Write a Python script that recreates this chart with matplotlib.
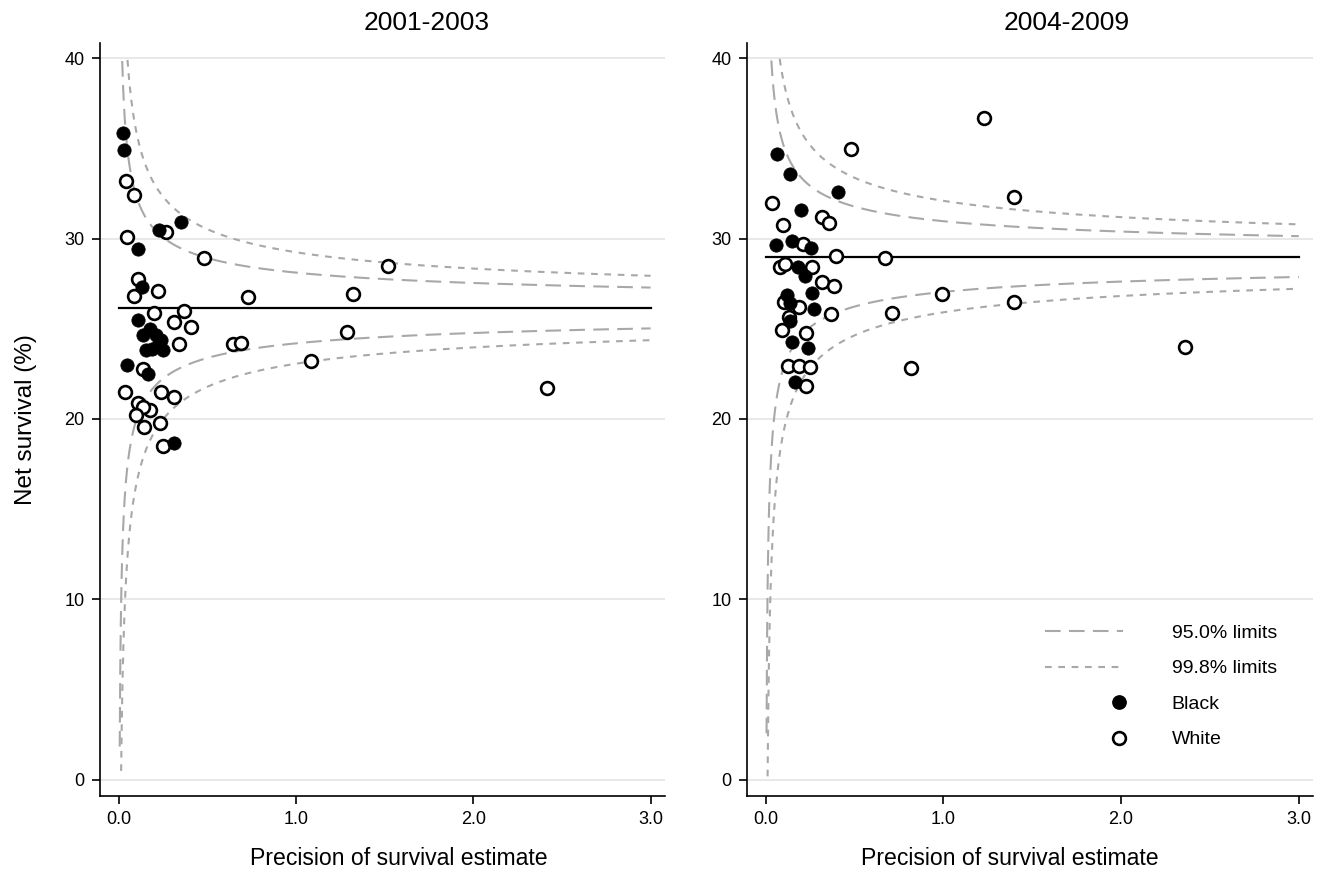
import numpy as np
import matplotlib
matplotlib.use("Agg")
from matplotlib import pyplot as plt
from matplotlib.lines import Line2D
from matplotlib.legend_handler import HandlerLine2D

plt.rcParams['font.family'] = ['Liberation Sans', 'DejaVu Sans']

titles = ["2001-2003", "2004-2009"]
means = [26.15, 29.0]
z95 = 1.96
z998 = 3.09

# 2001-2003
black_x_0 = [0.025, 0.03, 0.35, 0.227, 0.11, 0.13, 0.11, 0.175, 0.137, 0.21,
             0.24, 0.23, 0.156, 0.19, 0.25, 0.05, 0.167, 0.315]
black_y_0 = [35.83, 34.9, 30.9, 30.47, 29.42, 27.3, 25.48, 25.0, 24.65, 24.65,
             24.4, 24.2, 23.8, 23.9, 23.8, 23.0, 22.5, 18.69]
white_x_0 = [0.043, 0.086, 0.27, 0.05, 0.484, 1.52, 0.11, 0.086, 0.22, 0.728,
             1.32, 0.20, 0.37, 0.31, 0.41, 0.34, 0.643, 0.69, 1.29, 1.084,
             0.137, 0.034, 0.24, 0.31, 0.11, 0.175, 0.14, 0.10, 0.146, 0.236,
             0.25, 2.416]
white_y_0 = [33.2, 32.4, 30.38, 30.1, 28.9, 28.48, 27.75, 26.8, 27.1, 26.74,
             26.9, 25.85, 25.96, 25.35, 25.12, 24.15, 24.15, 24.2, 24.84, 23.23,
             22.77, 21.5, 21.47, 21.2, 20.86, 20.5, 20.65, 20.2, 19.53, 19.75,
             18.5, 21.73]

# 2004-2009
black_x_1 = [0.062, 0.14, 0.41, 0.197, 0.058, 0.15, 0.255, 0.18, 0.22, 0.26,
             0.118, 0.14, 0.27, 0.14, 0.146, 0.236, 0.165]
black_y_1 = [34.68, 33.6, 32.6, 31.6, 29.64, 29.88, 29.5, 28.4, 27.9, 27.0,
             26.87, 26.45, 26.1, 25.45, 24.27, 23.95, 22.07]
white_x_1 = [0.48, 0.038, 0.315, 0.356, 0.10, 0.208, 0.395, 0.67, 0.084, 0.109,
             0.26, 0.315, 0.387, 0.105, 0.19, 0.37, 0.71, 0.13, 0.094, 0.23,
             0.128, 0.187, 0.249, 0.23, 0.82, 1.23, 1.40, 0.994, 1.40, 2.36]
white_y_1 = [34.96, 31.98, 31.2, 30.87, 30.75, 29.7, 29.05, 28.9, 28.44, 28.6,
             28.44, 27.57, 27.37, 26.5, 26.2, 25.8, 25.86, 25.67, 24.93, 24.75,
             22.95, 22.92, 22.88, 21.83, 22.8, 36.66, 32.3, 26.9, 26.5, 24.0]

blacks = [(black_x_0, black_y_0), (black_x_1, black_y_1)]
whites = [(white_x_0, white_y_0), (white_x_1, white_y_1)]

yticks = [0, 10, 20, 30, 40]
xticks = [0.0, 1.0, 2.0, 3.0]

grey = "#a8a8a8"
dash95 = (7.5, 4.0)
dash998 = (3.2, 3.2)


class RightMarker(HandlerLine2D):
    # single marker sits at the right end of the handle
    def get_xdata(self, legend, xdescent, ydescent, width, height, fontsize):
        xdata = np.array([-xdescent + 0.9 * width, -xdescent + width])
        return xdata, xdata


fig = plt.figure(figsize=(13.29, 8.82), dpi=100)
axes = [fig.add_axes([0.0752, 0.0975, 0.425, 0.854]),
        fig.add_axes([0.562, 0.0975, 0.426, 0.854])]

prec = np.linspace(0.0005, 3.0, 3000)

for i, ax in enumerate(axes):
    m = means[i]
    for z, dsh in [(z95, dash95), (z998, dash998)]:
        for sgn in (1, -1):
            lim = m + sgn * z / np.sqrt(prec)
            lim = np.where((lim >= 0) & (lim <= 40), lim, np.nan)
            ax.plot(prec, lim, color=grey, lw=1.5, dashes=dsh, zorder=2)
    ax.plot([0, 3.0], [m, m], color="black", lw=1.6, zorder=2)

    wx, wy = whites[i]
    bx, by = blacks[i]
    ax.plot(wx, wy, "o", ms=9.2, mfc="white", mec="black", mew=1.9, zorder=3)
    ax.plot(bx, by, "o", ms=9.6, mfc="black", mec="black", mew=0.5, zorder=4)

    ax.set_xlim(-0.105, 3.08)
    ax.set_ylim(-0.9, 40.85)
    ax.set_yticks(yticks)
    ax.set_xticks(xticks)
    ax.set_xticklabels(["%.1f" % t for t in xticks])
    ax.grid(axis="y", color="#e6e6e6", lw=1.3, zorder=0)
    ax.set_axisbelow(True)
    for s in ("top", "right"):
        ax.spines[s].set_visible(False)
    for s in ("left", "bottom"):
        ax.spines[s].set_linewidth(1.2)
    ax.tick_params(direction="out", length=6, width=1.2, labelsize=13, pad=5)

    ax.set_title(titles[i], fontsize=19, x=0.579 if i == 0 else 0.564, pad=9)
    ax.set_xlabel("Precision of survival estimate", fontsize=16.6)
    ax.xaxis.set_label_coords(0.529 if i == 0 else 0.465, -0.068)

axes[0].set_ylabel("Net survival (%)", fontsize=17.5)
axes[0].yaxis.set_label_coords(-0.112, 0.5)

handles = [Line2D([], [], color=grey, lw=1.5, dashes=dash95),
           Line2D([], [], color=grey, lw=1.5, dashes=dash998),
           Line2D([], [], ls="", marker="o", ms=9.6, mfc="black", mec="black"),
           Line2D([], [], ls="", marker="o", ms=9.2, mfc="white", mec="black", mew=1.9)]
labels = ["95.0% limits", "99.8% limits", "Black", "White"]
leg = axes[1].legend(handles, labels, loc="lower right", bbox_to_anchor=(0.967, 0.04),
                     frameon=False, fontsize=14, handlelength=4.0, handletextpad=2.5,
                     labelspacing=0.92, numpoints=1,
                     handler_map={handles[2]: RightMarker(numpoints=1),
                                  handles[3]: RightMarker(numpoints=1)})

fig.savefig("out.png", dpi=100)
